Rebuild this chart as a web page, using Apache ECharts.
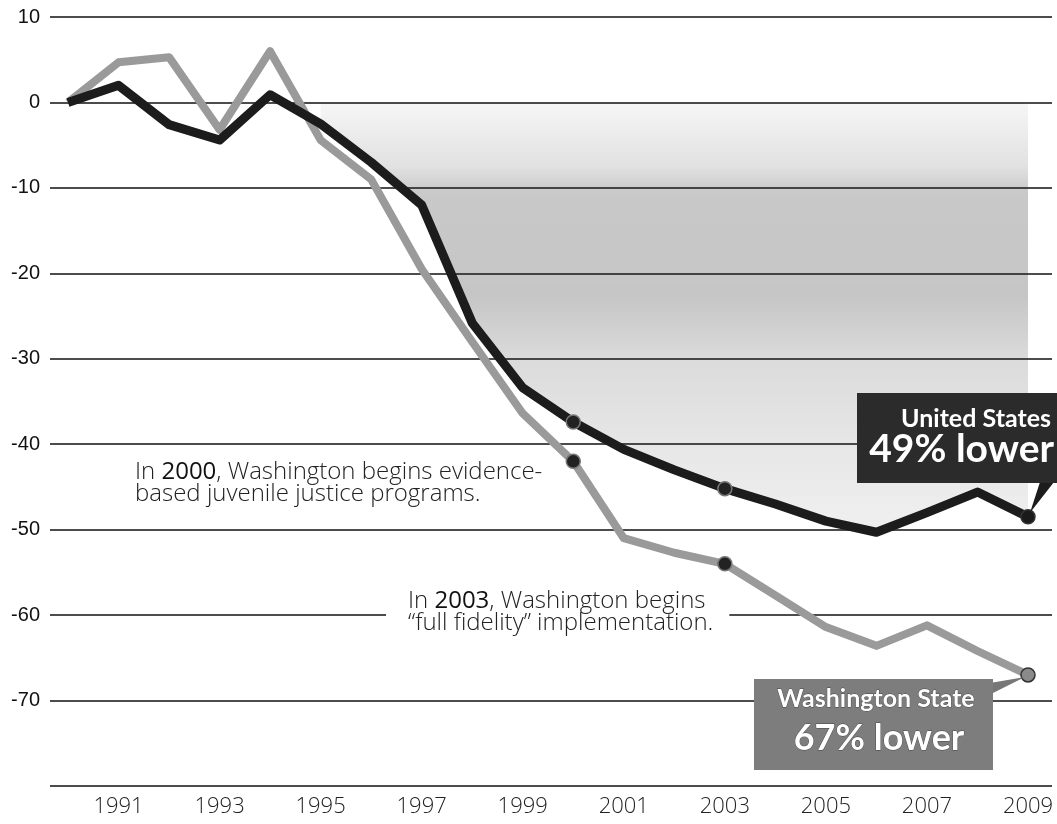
<!DOCTYPE html>
<html>
<head>
<meta charset="utf-8">
<script src="https://cdn.jsdelivr.net/npm/echarts@6/dist/echarts.min.js"></script>
<style>
html, body { margin: 0; padding: 0; background: #fff; }
#chart { width: 1057px; height: 824px; }
</style>
</head>
<body>
<div id="chart"></div>
<script>
// percent change in juvenile arrests since 1990
var years = [1990, 1991, 1992, 1993, 1994, 1995, 1996, 1997, 1998, 1999,
             2000, 2001, 2002, 2003, 2004, 2005, 2006, 2007, 2008, 2009];
var usChange = [0, 2, -2.6, -4.4, 0.9, -2.5, -7, -12, -25.8, -33.4,
                -37.4, -40.6, -43, -45.2, -47, -49, -50.3, -48, -45.6, -48.5];
var waChange = [0, 4.7, 5.3, -3.2, 6, -4.4, -9, -19.5, -28, -36.4,
                -42, -51, -52.7, -54, -57.7, -61.4, -63.6, -61.2, -64.2, -67];
var xLabelYears = [1991, 1993, 1995, 1997, 1999, 2001, 2003, 2005, 2007, 2009];
var markerYears = [2000, 2003, 2009];
var shadeFromYear = 1995;

var myChart = echarts.init(document.getElementById('chart'));

//折线数据（带标记点）
function lineData(vals, endColor) {
  return vals.map(function (v, i) {
    var y = years[i];
    if (markerYears.indexOf(y) >= 0) {
      return {
        value: [y, v],
        symbolSize: 14,
        itemStyle: y === 2009
          ? { color: endColor, borderColor: '#333', borderWidth: 1.5 }
          : { color: '#222', borderColor: '#777', borderWidth: 1.5 }
      };
    }
    return { value: [y, v], symbolSize: 0 };
  });
}

var shadeData = [];
for (var i = 0; i < years.length; i++) {
  if (years[i] >= shadeFromYear) shadeData.push([years[i], usChange[i]]);
}

var gridLine = { color: '#111', width: 1.6 };
var txtFont = 'Open Sans';

myChart.setOption({
  animation: false,
  grid: { left: 50, right: 5, top: 17, bottom: 38 },
  xAxis: {
    type: 'value',
    min: 1989.644,
    max: 2009.475,
    splitLine: { show: false },
    axisLine: { show: false },
    axisTick: { show: false },
    axisLabel: {
      customValues: xLabelYears,
      margin: 10,
      fontFamily: txtFont,
      fontWeight: 300,
      fontSize: 22,
      color: '#222',
      formatter: function (v) { return String(v); }
    }
  },
  yAxis: {
    type: 'value',
    min: -80,
    max: 10,
    interval: 10,
    axisLine: { show: false },
    axisTick: { show: false },
    splitLine: { lineStyle: gridLine },
    axisLabel: {
      margin: 10,
      fontFamily: 'Liberation Sans',
      fontSize: 20,
      color: '#111',
      formatter: function (v) { return v === -80 ? '' : v; }
    }
  },
  series: [
    {
      type: 'line',
      data: shadeData,
      symbol: 'none',
      silent: true,
      lineStyle: { width: 0 },
      areaStyle: {
        origin: 'auto',
        color: new echarts.graphic.LinearGradient(0, 0, 0, 1, [
          { offset: 0, color: 'rgba(40,40,40,0.06)' },
          { offset: 0.15, color: 'rgba(40,40,40,0.2)' },
          { offset: 0.21, color: 'rgba(40,40,40,0.36)' },
          { offset: 0.45, color: 'rgba(40,40,40,0.38)' },
          { offset: 0.6, color: 'rgba(40,40,40,0.24)' },
          { offset: 0.8, color: 'rgba(40,40,40,0.16)' },
          { offset: 1, color: 'rgba(40,40,40,0.1)' }
        ])
      },
      z: 1
    },
    {
      name: 'Washington State',
      type: 'line',
      data: lineData(waChange, '#8a8a8a'),
      symbol: 'circle',
      lineStyle: { color: '#9a9a9a', width: 8, join: 'round' },
      itemStyle: { color: '#9a9a9a' },
      z: 3
    },
    {
      name: 'United States',
      type: 'line',
      data: lineData(usChange, '#1a1a1a'),
      symbol: 'circle',
      lineStyle: { color: '#1c1c1c', width: 9, join: 'round' },
      itemStyle: { color: '#1c1c1c' },
      z: 4
    }
  ]
});

//标注与标签框
var usEnd = myChart.convertToPixel('grid', [2009, usChange[usChange.length - 1]]);
var waEnd = myChart.convertToPixel('grid', [2009, waChange[waChange.length - 1]]);
var noteRich = { b: { fontWeight: 500, fontFamily: txtFont, fontSize: 24, fill: '#111' } };

myChart.setOption({
  graphic: {
    elements: [
      {
        type: 'text', left: 135, top: 460, z: 100,
        style: {
          text: 'In {b|2000}, Washington begins evidence-\nbased juvenile justice programs.',
          fontFamily: txtFont, fontWeight: 300, fontSize: 24, lineHeight: 22, fill: '#222',
          rich: noteRich
        }
      },
      {
        type: 'text', left: 386, top: 586, z: 100,
        style: {
          text: 'In {b|2003}, Washington begins\n\u201cfull fidelity\u201d implementation.',
          fontFamily: txtFont, fontWeight: 300, fontSize: 24, lineHeight: 22, fill: '#222',
          backgroundColor: '#fff', padding: [4, 16, 4, 22],
          rich: noteRich
        }
      },
      {
        type: 'polygon', z: 99,
        shape: { points: [[1040, 482], [1054, 482], [usEnd[0] + 2, usEnd[1] - 4]] },
        style: { fill: '#1c1c1c' }
      },
      {
        type: 'rect', z: 100,
        shape: { x: 857, y: 393, width: 200, height: 90 },
        style: { fill: '#2b2b2b' }
      },
      {
        type: 'text', x: 1051, y: 406, z: 101,
        style: {
          text: 'United States', align: 'right', textAlign: 'right',
          fontFamily: 'Lato', fontWeight: 'bold', fontSize: 25, fill: '#fff'
        }
      },
      {
        type: 'text', x: 1054, y: 430, z: 101,
        style: {
          text: '49% lower', align: 'right', textAlign: 'right',
          fontFamily: 'Lato', fontWeight: 'bold', fontSize: 39, fill: '#fff'
        }
      },
      {
        type: 'polygon', z: 99,
        shape: { points: [[990, 683], [993, 693], [waEnd[0] - 3, waEnd[1] + 2]] },
        style: { fill: '#777' }
      },
      {
        type: 'rect', z: 100,
        shape: { x: 754, y: 679, width: 239, height: 91 },
        style: { fill: '#7d7d7d' }
      },
      {
        type: 'text', x: 876, y: 686, z: 101,
        style: {
          text: 'Washington State', align: 'center', textAlign: 'center',
          fontFamily: 'Lato', fontWeight: 'bold', fontSize: 25, fill: '#fff',
          stroke: '#444', lineWidth: 0.8
        }
      },
      {
        type: 'text', x: 879, y: 720, z: 101,
        style: {
          text: '67% lower', align: 'center', textAlign: 'center',
          fontFamily: 'Lato', fontWeight: 'bold', fontSize: 36, fill: '#fff',
          stroke: '#444', lineWidth: 0.8
        }
      }
    ]
  }
});
</script>
</body>
</html>
